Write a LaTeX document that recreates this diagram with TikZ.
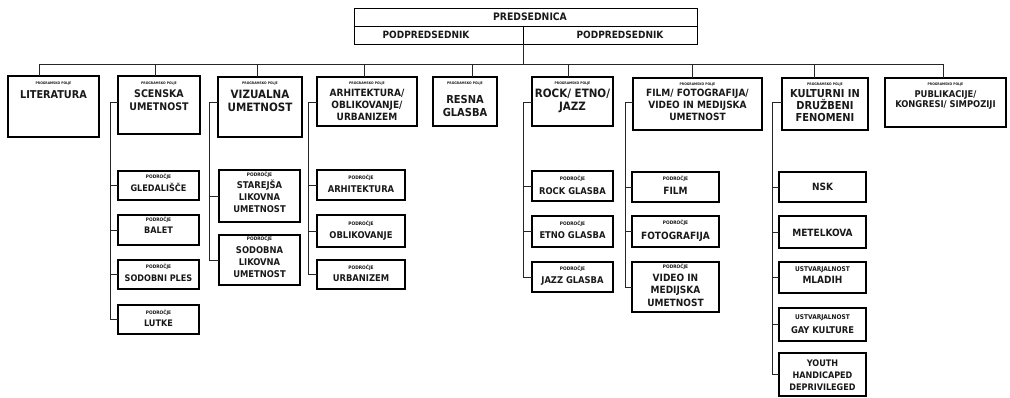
\documentclass[tikz,border=0pt]{standalone}
\usepackage{fontspec}
\setmainfont{DejaVuSansCondensed-Bold}[Extension=.ttf]
\usetikzlibrary{fit}
\tikzset{
  box/.style={draw=black, line width=1.1pt, inner sep=0pt, outer sep=0pt},
  topbox/.style={box, line width=0.9pt},
  cn/.style={draw=black!85, line width=0.75pt},
  txt/.style={inner sep=0pt, anchor=base, text=black!90},
}
\newcommand\obox[6][box]{\node[#1, fit={(#3,#4) (#5,#6)}] (#2) {};}
\newcommand\tline[5]{\node[txt, font=\fontsize{#4}{#4}\selectfont] (#1) at (#2.center |- 0,#3) {#5};}
\begin{document}
\begin{tikzpicture}[x=1pt,y=-1pt]
\useasboundingbox[fill=white] (0,0) rectangle (1010,397);

% top
\obox[topbox]{pred}{354}{8}{697}{26}
\obox[topbox]{podL}{354}{26}{523}{44}
\obox[topbox]{podR}{523}{26}{697}{44}
\node[txt, font=\fontsize{10.3}{12}\selectfont] (predT) at (530,20.8) {PREDSEDNICA};
\node[txt, font=\fontsize{10}{12}\selectfont] (podLT) at (426,38.7) {PODPREDSEDNIK};
\node[txt, font=\fontsize{10}{12}\selectfont] (podRT) at (620,38.7) {PODPREDSEDNIK};

% level 1 boxes
\obox{L1}{8}{76}{99}{137}
\obox{L2}{118}{76}{200}{134}
\obox{L3}{218}{77}{302}{137}
\obox{L4}{317}{77}{417}{126}
\obox{L5}{433}{77}{497}{126}
\obox{L6}{532}{77}{613}{126}
\obox{L7}{633}{78}{762}{130}
\obox{L8}{782}{78}{868}{130}
\obox{L9}{885}{78}{1006}{127}

\foreach \n/\y in {L1/84.2,L2/84.2,L3/84.2,L4/84.2,L5/84.2,L6/84.2,L7/85,L8/85,L9/85}
  \node[txt, font=\fontsize{3.4}{4}\selectfont] (\n p) at (\n.center |- 0,\y) {PROGRAMSKO POLJE};

\tline{L1a}{L1}{98.9}{10.8}{LITERATURA}
\tline{L2a}{L2}{97.8}{10.5}{SCENSKA}
\tline{L2b}{L2}{110.8}{10.5}{UMETNOST}
\tline{L3a}{L3}{98.2}{11.5}{VIZUALNA}
\tline{L3b}{L3}{111.2}{11.5}{UMETNOST}
\tline{L4a}{L4}{96.7}{10}{ARHITEKTURA/}
\tline{L4b}{L4}{108.7}{10}{OBLIKOVANJE/}
\tline{L4c}{L4}{120.7}{10}{URBANIZEM}
\tline{L5a}{L5}{103}{11}{RESNA}
\tline{L5b}{L5}{116}{11}{GLASBA}
\tline{L6a}{L6}{97.2}{11.5}{ROCK/ ETNO/}
\tline{L6b}{L6}{110.2}{11.5}{JAZZ}
\tline{L7a}{L7}{96.7}{10}{FILM/ FOTOGRAFIJA/}
\tline{L7b}{L7}{108.7}{10}{VIDEO IN MEDIJSKA}
\tline{L7c}{L7}{120.7}{10}{UMETNOST}
\tline{L8a}{L8}{97}{11}{KULTURNI IN}
\tline{L8b}{L8}{109}{11}{DRUŽBENI}
\tline{L8c}{L8}{121}{11}{FENOMENI}
\tline{L9a}{L9}{97.4}{9.3}{PUBLIKACIJE/}
\tline{L9b}{L9}{107.4}{9.3}{KONGRESI/ SIMPOZIJI}

% level 2 boxes
\obox{S21}{118}{171}{199}{200}
\obox{S22}{118}{215}{199}{245}
\obox{S23}{118}{260}{199}{289}
\obox{S24}{118}{305}{199}{334}
\obox{S31}{219}{170}{300}{222}
\obox{S32}{219}{235}{300}{285}
\obox{S41}{317}{170}{405}{200}
\obox{S42}{317}{215}{405}{247}
\obox{S43}{317}{260}{405}{289}
\obox{S61}{532}{171}{613}{201}
\obox{S62}{532}{216}{613}{247}
\obox{S63}{532}{262}{613}{292}
\obox{S71}{632}{172}{719}{202}
\obox{S72}{632}{216}{719}{247}
\obox{S73}{632}{262}{719}{312}
\obox{S81}{779}{172}{866}{202}
\obox{S82}{779}{216}{866}{248}
\obox{S83}{779}{262}{866}{293}
\obox{S84}{779}{308}{866}{341}
\obox{S85}{779}{353}{866}{396}

\foreach \n/\y in {S21/178.8,S22/221.8,S23/268.8,S24/314.8,S31/176.8,S32/240.8,
  S41/179.8,S42/225.8,S43/269.8,S61/180.8,S62/225.8,S63/270.8,S71/180.8,S72/224.8,S73/268.8}
  \node[txt, font=\fontsize{4.8}{5}\selectfont] (\n p) at (\n.center |- 0,\y) {PODROČJE};
\foreach \n/\y in {S83/271.4,S84/319.4}
  \node[txt, font=\fontsize{6.5}{7}\selectfont] (\n p) at (\n.center |- 0,\y) {USTVARJALNOST};

\tline{S21a}{S21}{191.3}{9}{GLEDALIŠČE}
\tline{S22a}{S22}{233.3}{9}{BALET}
\tline{S23a}{S23}{281.3}{9}{SODOBNI PLES}
\tline{S24a}{S24}{326.3}{9}{LUTKE}
\tline{S31a}{S31}{188.4}{9.3}{STAREJŠA}
\tline{S31b}{S31}{200.4}{9.3}{LIKOVNA}
\tline{S31c}{S31}{212.4}{9.3}{UMETNOST}
\tline{S32a}{S32}{253.4}{9.3}{SODOBNA}
\tline{S32b}{S32}{265.4}{9.3}{LIKOVNA}
\tline{S32c}{S32}{277.4}{9.3}{UMETNOST}
\tline{S41a}{S41}{192.4}{9.3}{ARHITEKTURA}
\tline{S42a}{S42}{238.4}{9.3}{OBLIKOVANJE}
\tline{S43a}{S43}{281.4}{9.3}{URBANIZEM}
\tline{S61a}{S61}{194.4}{9.3}{ROCK GLASBA}
\tline{S62a}{S62}{238.4}{9.3}{ETNO GLASBA}
\tline{S63a}{S63}{283.4}{9.3}{JAZZ GLASBA}
\tline{S71a}{S71}{194.6}{10}{FILM}
\tline{S72a}{S72}{239.6}{10}{FOTOGRAFIJA}
\tline{S73a}{S73}{281.6}{10}{VIDEO IN}
\tline{S73b}{S73}{293.6}{10}{MEDIJSKA}
\tline{S73c}{S73}{306.6}{10}{UMETNOST}
\tline{S81a}{S81}{190.6}{10}{NSK}
\tline{S82a}{S82}{236.6}{10}{METELKOVA}
\tline{S83a}{S83}{283.6}{10}{MLADIH}
\tline{S84a}{S84}{333.4}{9.3}{GAY KULTURE}
\tline{S85a}{S85}{366.3}{9}{YOUTH}
\tline{S85b}{S85}{378.3}{9}{HANDICAPED}
\tline{S85c}{S85}{390.3}{9}{DEPRIVILEGED}

% connectors: bus
\coordinate (busL) at (39,64);
\coordinate (busR) at (943,64);
\draw[cn] (busL) -- (busR);
\draw[cn] (podL.south east) -- (podL.south east |- busL);
\foreach \n/\x in {L1/39,L2/155,L3/257,L4/364,L5/472,L6/568,L7/692,L8/814,L9/943}{
  \coordinate (d\n) at (\x,64);
  \draw[cn] (d\n) -- (d\n |- \n.north);
}

% branches
\coordinate (v2) at (110,102);
\draw[cn] (v2 -| L2.west) -- (v2) |- (S24.west);
\foreach \s in {S21,S22,S23} \draw[cn] (v2 |- \s.west) -- (\s.west);

\coordinate (v3) at (209,102);
\draw[cn] (v3 -| L3.west) -- (v3) |- (S32.west);
\draw[cn] (v3 |- S31.west) -- (S31.west);

\coordinate (v4) at (308,102);
\draw[cn] (v4 -| L4.west) -- (v4) |- (S43.west);
\foreach \s in {S41,S42} \draw[cn] (v4 |- \s.west) -- (\s.west);

\coordinate (v6) at (523,102);
\draw[cn] (v6 -| L6.west) -- (v6) |- (S63.west);
\foreach \s in {S61,S62} \draw[cn] (v6 |- \s.west) -- (\s.west);

\coordinate (v7) at (625,102);
\draw[cn] (v7 -| L7.west) -- (v7) |- (S73.west);
\foreach \s in {S71,S72} \draw[cn] (v7 |- \s.west) -- (\s.west);

\coordinate (v8) at (772,102);
\draw[cn] (v8 -| L8.west) -- (v8) |- (S85.west);
\foreach \s in {S81,S82,S83,S84} \draw[cn] (v8 |- \s.west) -- (\s.west);
\end{tikzpicture}
\end{document}
